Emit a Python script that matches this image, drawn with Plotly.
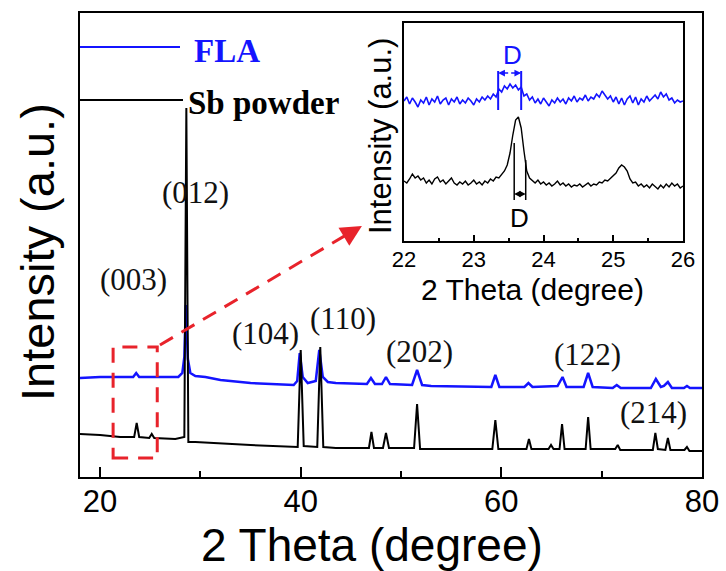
import plotly.graph_objects as go

W, H = 726, 571

# ---- main XRD patterns (2-theta in degree, intensity in a.u., offset stacked) ----
sb_theta = [18.0, 20.0, 22.0, 23.4, 23.65, 23.9, 24.9, 25.15, 25.4, 27.5,
            28.4, 28.6, 28.8, 29.5, 35.0, 39.7, 40.0, 40.3, 41.65, 41.95,
            42.25, 43.5, 46.8, 47.05, 47.3, 48.2, 48.5, 48.8, 51.3, 51.6,
            51.9, 59.1, 59.4, 59.7, 62.5, 62.75, 63.0, 64.7, 64.95, 65.2,
            65.8, 66.05, 66.3, 68.4, 68.65, 68.9, 71.35, 71.6, 71.85, 75.1,
            75.35, 75.6, 76.35, 76.6, 76.85, 78.25, 78.5, 78.75, 80.0]
sb_int = [43, 42, 40, 40, 54, 40, 39, 43, 39, 38,
          40, 369, 35, 35, 32, 30, 127, 31, 30, 130,
          30, 29, 29, 45, 29, 29, 44, 29, 29, 73,
          28, 28, 57, 28, 28, 38, 28, 28, 32, 28,
          28, 53, 28, 28, 60, 28, 28, 32, 27, 27,
          44, 28, 27, 39, 27, 27, 30, 26, 26]

fla_theta = [18.0, 20.0, 22.0, 23.3, 23.6, 23.9, 25.0, 27.8, 28.2, 28.4,
             28.55, 28.75, 29.0, 29.5, 30.5, 32.0, 35.0, 39.3, 39.65, 39.9,
             40.2, 40.7, 41.5, 41.85, 42.2, 42.7, 43.5, 46.6, 47.0, 47.4,
             48.1, 48.5, 48.9, 51.1, 51.6, 52.1, 53.0, 59.0, 59.4, 59.8,
             62.3, 62.7, 63.1, 65.6, 66.1, 66.5, 68.2, 68.65, 69.1, 71.1,
             71.5, 71.9, 74.9, 75.4, 75.9, 76.2, 76.6, 77.0, 78.2, 78.5,
             78.8, 80.0]
fla_int = [99, 100, 100, 100, 104, 100, 100, 100, 104, 120,
           172, 118, 104, 101, 100, 97, 94, 92, 96, 124,
           100, 94, 96, 127, 100, 95, 94, 93, 99, 93,
           93, 100, 93, 92, 107, 92, 91, 90, 102, 90,
           90, 94, 90, 91, 100, 90, 90, 104, 90, 89,
           92, 89, 89, 98, 90, 91, 95, 89, 89, 91,
           89, 89]

main_ticks = [20, 40, 60, 80]
main_minor = [30, 50, 70]

peak_labels = ["(003)", "(012)", "(104)", "(110)", "(202)", "(122)", "(214)"]
peak_label_px = [(133, 280), (195, 192), (265, 333), (343, 318),
                 (420, 351), (587, 354), (653, 412)]

# ---- inset: slow scan 22-26 degree, 0.04 degree step ----
inset_theta = [round(22 + 0.04 * i, 2) for i in range(101)]
inset_sb = [60, 58, 62, 67, 63, 65, 61, 63, 58, 61,
            57, 62, 64, 59, 61, 57, 60, 63, 58, 56,
            59, 57, 60, 56, 58, 61, 57, 59, 56, 60,
            58, 62, 60, 64, 63, 67, 70, 76, 88, 106,
            121, 124, 113, 90, 70, 63, 60, 58, 61, 57,
            59, 56, 58, 55, 57, 60, 56, 58, 55, 57,
            54, 56, 55, 57, 54, 56, 58, 55, 57, 56,
            59, 58, 61, 60, 63, 65, 68, 73, 76, 74,
            70, 62, 58, 59, 55, 57, 54, 56, 53, 57,
            54, 52, 56, 53, 57, 54, 58, 55, 57, 53,
            55]
inset_fla = [140, 144, 137, 143, 139, 134, 141, 138, 144, 136,
             142, 139, 145, 137, 141, 143, 136, 142, 139, 144,
             137, 141, 138, 143, 140, 136, 142, 139, 144, 141,
             145, 142, 147, 144, 152, 149, 155, 152, 157, 153,
             156, 151, 154, 145, 147, 141, 144, 138, 142, 137,
             143, 139, 135, 141, 138, 143, 139, 142, 137, 143,
             140, 145, 139, 143, 141, 146, 140, 144, 142, 147,
             144, 150, 146, 142, 145, 139, 144, 137, 143, 136,
             142, 145, 138, 144, 136, 142, 139, 145, 140, 143,
             146, 142, 149, 144, 147, 141, 143, 138, 141, 139,
             140]
inset_ticks = [22, 23, 24, 25, 26]
inset_minor = [22.5, 23.5, 24.5, 25.5]

BLUE = "#1414ff"
RED = "#e8232b"
SANS = "Liberation Sans, Arial, sans-serif"
SERIF = "Liberation Serif, Times New Roman, serif"


def px(x):
    return x / W


def py(y):
    return 1 - y / H


def label(text, x, y, size, color="black", family=SANS, anchor="center", angle=0):
    return dict(text=text, xref="paper", yref="paper", x=px(x), y=py(y),
                xanchor=anchor, yanchor="middle", textangle=angle,
                showarrow=False, font=dict(family=family, size=size, color=color))


fig = go.Figure()

fig.add_trace(go.Scatter(x=fla_theta, y=fla_int, mode="lines",
                         line=dict(color=BLUE, width=2.5), name="FLA",
                         xaxis="x", yaxis="y"))
fig.add_trace(go.Scatter(x=sb_theta, y=sb_int, mode="lines",
                         line=dict(color="black", width=2), name="Sb powder",
                         xaxis="x", yaxis="y"))
fig.add_trace(go.Scatter(x=inset_theta, y=inset_fla, mode="lines",
                         line=dict(color=BLUE, width=1.6),
                         xaxis="x2", yaxis="y2"))
fig.add_trace(go.Scatter(x=inset_theta, y=inset_sb, mode="lines",
                         line=dict(color="black", width=1.4),
                         xaxis="x2", yaxis="y2"))

shapes = []
annotations = []

# legend samples
shapes.append(dict(type="line", xref="paper", yref="paper",
                   x0=px(80), x1=px(180), y0=py(47), y1=py(47),
                   line=dict(color=BLUE, width=2)))
shapes.append(dict(type="line", xref="paper", yref="paper",
                   x0=px(80), x1=px(183), y0=py(100), y1=py(100),
                   line=dict(color="black", width=2)))
annotations.append(label("<b>FLA</b>", 192, 51, 33, BLUE, SERIF, "left"))
annotations.append(label("<b>Sb powder</b>", 186, 103, 33, "black", SERIF, "left"))

# Miller indices
for lab, (lx, ly) in zip(peak_labels, peak_label_px):
    annotations.append(label(lab, lx, ly, 31, "#111111", SERIF))

# zoomed window marker and pointer to inset
shapes.append(dict(type="rect", xref="x", yref="y", x0=21.3, x1=25.7, y0=19, y1=130,
                   line=dict(color=RED, width=3, dash="15px,10px")))
shapes.append(dict(type="line", xref="x", yref="y", x0=25.97, y0=132, x1=44.7, y1=243,
                   line=dict(color=RED, width=3, dash="15px,10px")))
annotations.append(dict(x=46.1, y=251, xref="x", yref="y", ax=-15, ay=9,
                        showarrow=True, arrowhead=2, arrowsize=1.4, arrowwidth=3,
                        arrowcolor=RED, text=""))

# axis titles
annotations.append(label("2 Theta (degree)", 372, 545, 46))
annotations.append(label("Intensity (a.u.)", 37, 252, 47, angle=-90))
annotations.append(label("2 Theta (degree)", 532, 289, 30))
annotations.append(label("Intensity (a.u.)", 380, 136, 31, angle=-90))

# peak width markers in the inset
shapes.append(dict(type="line", xref="x2", yref="y2", x0=23.35, x1=23.35, y0=131, y1=170,
                   line=dict(color=BLUE, width=2)))
shapes.append(dict(type="line", xref="x2", yref="y2", x0=23.68, x1=23.68, y0=131, y1=170,
                   line=dict(color=BLUE, width=2)))
for tip in (23.35, 23.68):
    annotations.append(dict(x=tip, y=168, ax=23.515, ay=168, xref="x2", yref="y2",
                            axref="x2", ayref="y2", showarrow=True, arrowhead=2,
                            arrowsize=0.9, arrowwidth=1.5, arrowcolor=BLUE, text=""))
annotations.append(label("D", 512, 55, 26, BLUE))

shapes.append(dict(type="line", xref="x2", yref="y2", x0=23.58, x1=23.58, y0=41, y1=98,
                   line=dict(color="black", width=1.5)))
shapes.append(dict(type="line", xref="x2", yref="y2", x0=23.745, x1=23.745, y0=41, y1=81,
                   line=dict(color="black", width=1.5)))
for tip in (23.58, 23.745):
    annotations.append(dict(x=tip, y=47, ax=23.66, ay=47, xref="x2", yref="y2",
                            axref="x2", ayref="y2", showarrow=True, arrowhead=2,
                            arrowsize=0.9, arrowwidth=1.4, arrowcolor="black", text=""))
annotations.append(label("D", 519, 218, 26))

fig.update_layout(
    width=W, height=H, autosize=False,
    margin=dict(l=0, r=0, t=0, b=0, pad=0, autoexpand=False),
    paper_bgcolor="white", plot_bgcolor="white",
    showlegend=False,
    shapes=shapes, annotations=annotations,
    xaxis=dict(domain=[px(80), px(702)], range=[18, 80], tickmode="array",
               tickvals=main_ticks, ticks="inside", ticklen=10, tickwidth=2,
               tickcolor="black", showline=True, linecolor="black", linewidth=2,
               mirror=True, showgrid=False, zeroline=False, ticklabelstandoff=-4,
               automargin=False,
               tickfont=dict(family=SANS, size=31, color="black"),
               minor=dict(tickvals=main_minor, ticks="inside", ticklen=6,
                          tickwidth=2, tickcolor="black", showgrid=False)),
    yaxis=dict(domain=[py(477), py(13)], range=[0, 464], showticklabels=False,
               ticks="", showline=True, linecolor="black", linewidth=2, mirror=True,
               showgrid=False, zeroline=False, automargin=False),
    xaxis2=dict(domain=[px(404), px(683)], range=[22, 26], anchor="y2",
                tickmode="array", tickvals=inset_ticks, ticks="inside", ticklen=6,
                tickwidth=1.5, tickcolor="black", showline=True, linecolor="black",
                linewidth=1.5, mirror=True, showgrid=False, zeroline=False,
                ticklabelstandoff=-2, automargin=False,
                tickfont=dict(family=SANS, size=22, color="black"),
                minor=dict(tickvals=inset_minor, ticks="inside", ticklen=3,
                           tickwidth=1.5, tickcolor="black", showgrid=False)),
    yaxis2=dict(domain=[py(241), py(23)], range=[0, 218], anchor="x2",
                showticklabels=False, ticks="", showline=True, linecolor="black",
                linewidth=1.5, mirror=True, showgrid=False, zeroline=False,
                automargin=False),
)

fig.write_html("out.html", config={"displayModeBar": False})
